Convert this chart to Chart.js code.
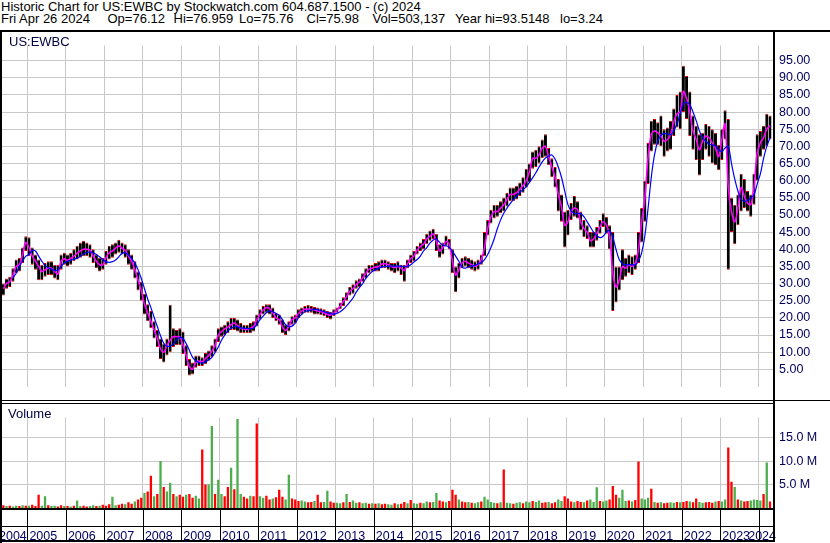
<!DOCTYPE html>
<html>
<head>
<meta charset="utf-8">
<title>US:EWBC historic chart</title>
<script src="https://cdn.jsdelivr.net/npm/chart.js@4.4.1/dist/chart.umd.min.js"></script>
<style>
  body { margin: 0; background: #fff; }
  #page { position: relative; width: 830px; height: 543px; overflow: hidden; background: #fff;
          font-family: 'Liberation Sans', Arial, sans-serif; font-size: 13px; color: #000; }
  .txt { position: absolute; white-space: pre; line-height: 13px; z-index: 3; }
  .rule { position: absolute; background: #000; z-index: 2; }
  canvas { position: absolute; left: 0; }
</style>
</head>
<body>
<div id="page">
  <canvas id="price" width="830" height="368" style="top:32px"></canvas>
  <canvas id="volume" width="830" height="139" style="top:404px"></canvas>

  <div class="txt" style="left:1px;top:0">Historic Chart for US:EWBC by Stockwatch.com 604.687.1500 - (c) 2024</div>
  <div class="txt" style="left:1px;top:11.7px">Fri Apr 26 2024</div>
  <div class="txt" style="left:107.5px;top:11.7px">Op=76.12</div>
  <div class="txt" style="left:173.5px;top:11.7px">Hi=76.959</div>
  <div class="txt" style="left:239px;top:11.7px">Lo=75.76</div>
  <div class="txt" style="left:306.5px;top:11.7px">Cl=75.98</div>
  <div class="txt" style="left:372.5px;top:11.7px">Vol=503,137</div>
  <div class="txt" style="left:455px;top:11.7px">Year hi=93.5148</div>
  <div class="txt" style="left:560px;top:11.7px">lo=3.24</div>
  <div class="txt" style="left:9px;top:34.7px;color:#000040">US:EWBC</div>
  <div class="txt" style="left:8px;top:406.5px;color:#000040">Volume</div>

  <div class="rule" style="left:0;top:30px;width:830px;height:2px"></div>
  <div class="rule" style="left:0;top:30px;width:2px;height:513px"></div>
  <div class="rule" style="left:773px;top:30px;width:2px;height:512px"></div>
  <div class="rule" style="left:0;top:400px;width:830px;height:1px"></div>
  <div class="rule" style="left:0;top:403px;width:775px;height:1px"></div>
</div>

<script>
// monthly bars, first one is May 2004
const firstYear = 2004;
const firstMonth = 5;

// monthly low / high (US$)
const lows = [
  26.5, 28.5, 29, 30.5, 33, 33.5, 36, 39.5,
  38, 35.5, 34, 31, 31, 32, 32.5, 32.5, 31.5, 31, 34, 35.5,
  35, 35.5, 36.5, 37, 37.5, 38, 38, 37.5, 36, 34.5, 33.5, 34,
  35.5, 37, 37.5, 38.5, 39, 38.5, 37.5, 35.5, 34, 31.5, 28, 25,
  21, 19, 17, 14, 11.5, 8, 7, 9, 10, 11.5, 12, 12,
  9.5, 6, 3.2, 3.5, 5.5, 6, 6, 6.5, 7.5, 8.5, 10, 13,
  14.5, 15, 15.5, 16.5, 16.5, 16, 15.5, 15.5, 15.5, 15.5, 16, 17.5,
  19.5, 21, 21.5, 21, 20, 19, 18, 15.5, 15, 16, 18, 18.5,
  20, 21, 21.5, 21.5, 21.5, 21, 21, 20.8, 20.5, 20, 19.5, 20.5,
  21.5, 22.5, 23.5, 25, 26.5, 27, 28.5, 29, 30.5, 31.5, 33, 33.5,
  33.5, 33.5, 34.5, 34.5, 34, 33.5, 33, 33.5, 32.5, 30.5, 34.5, 36,
  36.5, 38.5, 39.5, 40, 41.5, 42.5, 43, 39.5, 37.5, 38.5, 41, 40,
  33, 27.5, 31.5, 34.5, 35, 34.5, 34, 33.5, 34, 35.5, 38, 44,
  47.5, 49, 49.5, 50.5, 51, 52.5, 54, 54, 54.5, 55.5, 56.5, 58,
  59.5, 63.5, 64, 65, 66.5, 67, 64.5, 61, 58, 51, 48, 40.5,
  44, 48.5, 49.5, 49, 45.5, 43.5, 43, 40.5, 40.5, 42.5, 44.5, 46.5,
  44.5, 40, 22, 24.5, 28, 31, 32, 33, 32.5, 34, 36, 42,
  48, 59, 68.5, 70.5, 70.5, 70, 67, 68.5, 69, 73, 75.5, 75,
  80, 78, 73, 69, 66, 61.5, 66, 69, 67, 65, 64.5, 63,
  66, 72, 34, 45, 41.5, 47, 51, 52, 51, 49.5, 53, 60,
  67, 69, 70, 72
];
const highs = [
  30, 31.5, 32, 34.5, 37, 37.5, 40.5, 43.8,
  43.5, 40.5, 38.5, 37, 35.5, 36, 36.5, 36.5, 35.5, 35.5, 38.5, 39,
  38.5, 39, 40, 41, 42, 42.5, 42, 41.5, 40, 38.5, 37.5, 37.5,
  39.5, 41, 41.5, 42, 42.8, 42, 41.5, 40, 38.5, 36.5, 33.5, 30.5,
  27, 24, 22, 19, 16.5, 14, 12.5, 14, 23.8, 17, 16.5, 17,
  16, 12, 8, 7, 9, 9, 8.5, 9.8, 10.5, 12, 14, 17,
  17.5, 18, 19, 20, 20, 19.5, 18.5, 18, 18, 18.5, 19, 21,
  22.5, 23.5, 24, 24, 23, 21.5, 21, 19.5, 18, 19, 20.5, 21,
  22.5, 23, 23.5, 23.8, 23.5, 23.2, 23, 22.8, 22.5, 22, 21.8, 22.5,
  23, 24.5, 26, 27.5, 29, 29.8, 31, 31.5, 33, 34.5, 35.5, 35.5,
  36, 36.5, 37, 37, 36.5, 36, 36, 36.5, 35.5, 35.5, 37, 38.5,
  39.5, 41, 42, 43, 44.5, 45.5, 46, 44.5, 41.5, 42, 44, 43,
  40, 35, 36, 37.5, 38, 37.5, 37, 36.5, 37, 38.5, 45, 48.5,
  51.5, 53, 53, 54, 55, 56.5, 58, 58, 58.5, 59.5, 61, 63.5,
  65, 68.5, 69, 70, 72, 73.5, 69.5, 66.5, 64, 60.5, 56, 51,
  51.5, 53.5, 55.5, 54, 51, 48.5, 47, 45, 45, 46.5, 48.5, 50.5,
  49.5, 47, 45, 35, 35, 40, 37.5, 38.5, 38, 38.5, 45, 52,
  60, 71, 77.5, 78, 77, 79, 75, 75.5, 77.5, 81, 85, 86,
  93.5, 90.5, 86, 79, 76, 73.5, 74, 76.5, 76, 75, 74, 70.5,
  75, 80.5, 78, 55, 53, 56, 62, 60.5, 57, 56, 62, 73.5,
  74.5, 76, 79.5, 79
];

// short moving average (magenta) and long moving average (blue)
const shortAvg = [
  28.5, 30, 30.5, 32.5, 35, 35.5, 38.5, 42,
  40.5, 38, 36.5, 35, 33.5, 34, 34.5, 34.5, 33.5, 32.8, 36.5, 37.2,
  36.8, 37.3, 38, 38.8, 39.5, 40, 40, 39.7, 38, 36.5, 35.5, 35.5,
  37.5, 39, 39.5, 40.3, 41, 40.3, 39.7, 38, 36.5, 34, 31, 28,
  24, 21.5, 19, 16.5, 14, 11, 10, 12, 13.5, 14.5, 14.5, 14.5,
  12, 9, 5.8, 5, 7, 7.4, 7.2, 8.2, 9, 10.3, 12, 15,
  16, 16.8, 17.3, 18, 18.5, 17.8, 17, 16.8, 16.6, 17, 17.5, 19.5,
  21, 22.3, 23, 22.7, 21.5, 20, 19.5, 17.3, 16.3, 17.5, 19.5, 20,
  21.3, 22, 22.5, 22.6, 22.5, 22.3, 22, 21.8, 21.4, 21, 20.8, 21.4,
  22.2, 23.5, 24.8, 26.2, 27.8, 28.5, 29.7, 30.5, 31.6, 33, 34.2, 34.5,
  34.8, 35, 35.7, 35.8, 35.5, 35, 34.7, 35, 34.5, 33.8, 35.8, 37.3,
  38, 39.8, 40.8, 41.5, 43, 43.8, 44.5, 42.3, 39.5, 40.5, 42.3, 41.5,
  36.5, 32.5, 34, 36, 36.5, 36, 35.5, 35, 35.5, 37, 40.5, 46,
  49.5, 51, 51, 52, 53, 54.5, 56, 56, 56.5, 57.5, 58.5, 60,
  62.5, 66.5, 66.5, 67.5, 69.5, 70, 67, 64, 61, 56, 52.5, 47,
  48, 51, 52, 51.5, 48, 46, 45, 42.5, 43, 44.5, 46.5, 48,
  47, 44, 33, 29, 31, 35, 34.5, 35.5, 35, 36, 40, 48,
  55, 67, 73.5, 74.5, 74, 73, 71.5, 72, 73.5, 77, 79.5, 80,
  86, 84, 80, 74.5, 72, 69, 71.5, 73, 72.5, 71, 69.5, 67,
  72, 76.5, 58, 51, 48, 52, 58, 55.5, 53.5, 53, 58, 68,
  71, 72.5, 75, 76
];
const longAvg = [
  null, null, null, 31.8, 33, 35, 36.5, 38,
  38.5, 39.6, 39.5, 38, 36.5, 35.3, 34.6, 34.2, 33.8, 34, 35, 36,
  36.5, 36.8, 37.1, 37.4, 38, 38.6, 39.1, 39.2, 39, 38.5, 37.8, 37,
  36.4, 36.2, 36.4, 36.9, 37.8, 38.8, 39, 38.3, 37.3, 36, 34, 31.5,
  28.5, 25.5, 23, 20.2, 17.5, 14.8, 12.6, 11.7, 11.8, 12.4, 13.5, 14.3,
  14, 12.5, 10.5, 8.5, 7.5, 7, 6.8, 7.2, 7.8, 8.5, 9.9, 11.5,
  13.5, 15, 16.2, 17, 17.5, 17.4, 17.1, 17, 16.9, 16.9, 17, 18,
  19.5, 20.5, 21.5, 22, 21.8, 21.3, 20.8, 19.5, 18, 17.5, 17.6, 18.5,
  20, 21, 21.8, 22.1, 22.3, 22.5, 22.4, 22.1, 21.8, 21.6, 21.3, 21.1,
  21.3, 21.8, 22.5, 23.5, 24.6, 25.8, 27.5, 28.8, 30, 31.5, 32.6, 33.5,
  34, 34.5, 34.8, 35, 35.1, 35.1, 35.1, 35.1, 35.1, 35, 35, 35.5,
  36.3, 37, 38, 39.5, 40.5, 41.8, 42.7, 43, 42, 41.2, 41, 40.6,
  39.5, 38, 36.5, 34.8, 34.5, 34.9, 35.1, 35.3, 35.7, 36.1, 37, 38.5,
  40.5, 43, 46, 48.5, 50.5, 52, 53.3, 54.5, 55.5, 56.5, 57.4, 58.2,
  59.5, 60.8, 62.3, 64, 65.5, 66.6, 67.2, 67.5, 66.3, 64, 61, 57,
  53, 51.2, 50.5, 50.4, 50.4, 49.5, 48, 46.5, 45, 44, 43.4, 43.8,
  45, 45.5, 43.5, 40, 37, 35.8, 35.5, 35.5, 35.5, 35.5, 36.5, 39,
  44, 52, 61, 67.5, 71.5, 73.2, 73.8, 73.6, 73.4, 74.5, 76.5, 79.5,
  82.4, 82.8, 82.2, 80, 77.5, 74.5, 72.5, 71.5, 70.7, 70.4, 70.2, 69,
  68.5, 69.5, 70, 65, 60.5, 57, 54.5, 54, 54.2, 55, 55.8, 59,
  62, 66.5, 70, 72.5
];

// volume, millions of shares
const volume = [
  0.6, 0.4, 0.5, 0.3, 0.5, 0.4, 0.6, 0.5,
  0.5, 0.7, 0.4, 2.8, 0.5, 2.5, 0.6, 0.4, 0.5, 0.3, 0.6, 0.4,
  0.4, 0.3, 0.5, 1.6, 0.4, 0.5, 0.3, 0.4, 0.6, 0.4, 0.5, 0.7,
  0.5, 0.8, 2.4, 0.6, 0.7, 0.9, 0.8, 1.2, 0.9, 1.4, 1.8, 2.2,
  3.2, 3.5, 6.9, 2.5, 3, 10, 4.5, 3.5, 5.4, 3, 2.5, 2.8,
  2.4, 2.8, 3, 2.2, 2.6, 2, 12.5, 5, 5, 17.5, 3, 6,
  3, 2.5, 4.5, 8.6, 4, 19, 3, 2.4, 2, 2.6, 2.5, 18,
  2.5, 2.2, 2.6, 1.8, 2, 2.3, 3.9, 2.4, 1.8, 7.1, 2, 1.8,
  1.5, 1.6, 1.4, 1.2, 1.3, 1.5, 2.8, 1.2, 1.3, 3.7, 1.4, 1.1,
  1.1, 1, 1.2, 3, 1.3, 1.6, 1.1, 1.2, 1, 1.1, 0.9, 1,
  0.9, 1, 0.8, 0.9, 0.8, 0.7, 1, 0.8, 0.9, 1.3, 1, 1.7,
  1, 0.9, 1.1, 1, 1.4, 1.2, 1.3, 3.2, 1.6, 1.4, 1.2, 1.5,
  3.9, 2.8, 1.8, 1.4, 1.2, 1.3, 1.1, 1, 1.2, 1.4, 2.4, 1.8,
  1.3, 1.1, 1, 1.2, 8.2, 1.1, 1, 0.9, 1.1, 1.2, 1, 1.4,
  1.2, 1.5, 1.3, 1.6, 1.1, 1.2, 1.3, 1, 1.2, 1.8, 1.5, 2.5,
  2, 1.4, 1.2, 1.5, 1.3, 1.2, 1.6, 1.8, 1.3, 4.4, 1.5, 1.4,
  1.6, 1.8, 4.7, 2.8, 2.2, 3.9, 1.5, 1.6, 1.4, 1.7, 9.9, 2,
  1.8, 2.2, 4.1, 1.3, 1.1, 1.2, 1, 1.1, 1.2, 1.1, 1.3, 1.2,
  1.3, 1.5, 1.4, 1.2, 2, 1.3, 1.1, 1.2, 1.3, 1.1, 1.4, 1.5,
  1.4, 1.8, 12.9, 5.6, 4.5, 1.8, 1.6, 1.4, 1.5, 1.6, 1.8, 1.7,
  1.6, 3, 9.7, 1.4
];
// u = up month, d = down month, one string per year
const volumeDir = [
  'duduudud',
  'uddduuduuddu', 'duduudduudud', 'dduudduddudd', 'uddududuudud', 'dudduudduudu',
  'udduduuddudd', 'uudduddduudd', 'duuddudduudd', 'uududuuduudu', 'dudduududdud',
  'uuduuduuddud', 'ddudduduuduu', 'uududuuduudu', 'uduuddudduud', 'ddudduduuudu',
  'uddduuududdu', 'uudududduudu', 'ddudduudddud', 'uuddududduuu',
  'udud'
].join('');

const yearLines = [2005, 2006, 2007, 2008, 2009, 2010, 2011, 2012, 2013, 2014,
                   2015, 2016, 2017, 2018, 2019, 2020, 2021, 2022, 2023, 2024];
const yearLabels = ['2004', '2005', '2006', '2007', '2008', '2009', '2010', '2011', '2012', '2013', '2014',
                    '2015', '2016', '2017', '2018', '2019', '2020', '2021', '2022', '2023', '2024'];
const priceTicks = [5, 10, 15, 20, 25, 30, 35, 40, 45, 50, 55, 60, 65, 70, 75, 80, 85, 90, 95];
const volumeTicks = [5, 10, 15];

// ---------------------------------------------------------------
const FONT = "'Liberation Sans', Arial, sans-serif";
const GRID = '#c8c8c8';
const TICK_COLOR = '#000060';
Chart.defaults.font.family = FONT;

const monthX = lows.map((v, i) => firstYear + (firstMonth - 1 + i + 0.5) / 12);
const pts = arr => arr.map((v, i) => ({ x: monthX[i], y: v }));

function xAxis() {
  return {
    type: 'linear',
    min: 2004.34,
    max: 2024.37,
    offset: false,
    afterBuildTicks: s => { s.ticks = yearLines.map(v => ({ value: v })); },
    afterFit: s => { s.height = 0; },
    grid: { color: GRID, lineWidth: 1, drawTicks: false, offset: false },
    border: { display: false },
    ticks: { display: false }
  };
}

function rightAxis(min, max, ticks, fmt) {
  return {
    position: 'right',
    min: min,
    max: max,
    afterBuildTicks: s => { s.ticks = ticks.map(v => ({ value: v })); },
    afterFit: s => { s.width = 57; },
    grid: { color: GRID, lineWidth: 1, drawTicks: false },
    border: { display: false },
    ticks: { padding: 6, color: TICK_COLOR, font: { size: 12.5 }, callback: fmt }
  };
}

const common = {
  responsive: false,
  animation: false,
  plugins: { legend: { display: false }, tooltip: { enabled: false } }
};

// Price
new Chart(document.getElementById('price'), {
  type: 'bar',
  data: {
    datasets: [
      {
        type: 'line', label: 'Long average', data: pts(longAvg),
        borderColor: '#0000ff', borderWidth: 1.2, pointRadius: 0, tension: 0.35, order: 0
      },
      {
        type: 'line', label: 'Short average', data: pts(shortAvg),
        borderColor: '#ff00ff', borderWidth: 1.6, pointRadius: 0, tension: 0.35, order: 1
      },
      {
        label: 'Range',
        data: lows.map((lo, i) => ({ x: monthX[i], y: [lo, highs[i]] })),
        backgroundColor: '#000000',
        borderColor: '#e00000',
        borderWidth: { top: 1, bottom: 1, left: 0, right: 0 },
        borderSkipped: false,
        barPercentage: 0.95, categoryPercentage: 1, order: 2
      }
    ]
  },
  options: {
    ...common,
    layout: { padding: { left: 2, right: 0, top: 0, bottom: 0 } },
    scales: {
      x: xAxis(),
      y: rightAxis(0, 99.4, priceTicks, v => v.toFixed(2))
    }
  }
});

// year band under the volume panel
const yearBand = {
  id: 'yearBand',
  afterDraw(chart) {
    const { ctx, chartArea, scales: { x } } = chart;
    const top = chartArea.bottom;
    const right = chartArea.right + 2;
    ctx.save();
    ctx.fillStyle = '#000';
    ctx.fillRect(0, top, right, 2);
    ctx.fillRect(0, top + 18, right, 1);
    ctx.fillRect(0, top + 32, right, 2);
    yearLines.forEach(yr => {
      const px = Math.round(x.getPixelForValue(yr));
      ctx.fillRect(px, top + 2, 1, 30);
    });
    ctx.font = '12.5px ' + FONT;
    ctx.fillStyle = TICK_COLOR;
    ctx.textBaseline = 'alphabetic';
    yearLabels.forEach((lab, i) => {
      const w = ctx.measureText(lab).width;
      let px = i === 0 ? x.getPixelForValue(x.min) - 3 : x.getPixelForValue(yearLines[i - 1]) + 2;
      px = Math.min(px, right + 1 - w);
      ctx.fillText(lab, px, top + 31.5);
    });
    ctx.restore();
  }
};

// Volume
new Chart(document.getElementById('volume'), {
  type: 'bar',
  data: {
    datasets: [{
      label: 'Volume',
      data: pts(volume),
      backgroundColor: volume.map((v, i) => volumeDir[i] === 'u' ? '#4cae4c' : '#ff0000'),
      barPercentage: 0.72, categoryPercentage: 1
    }]
  },
  options: {
    ...common,
    layout: { padding: { left: 2, right: 0, top: 0, bottom: 35 } },
    scales: {
      x: xAxis(),
      y: rightAxis(0, 19.3, volumeTicks, v => v.toFixed(1) + ' M')
    }
  },
  plugins: [yearBand]
});
</script>
</body>
</html>
